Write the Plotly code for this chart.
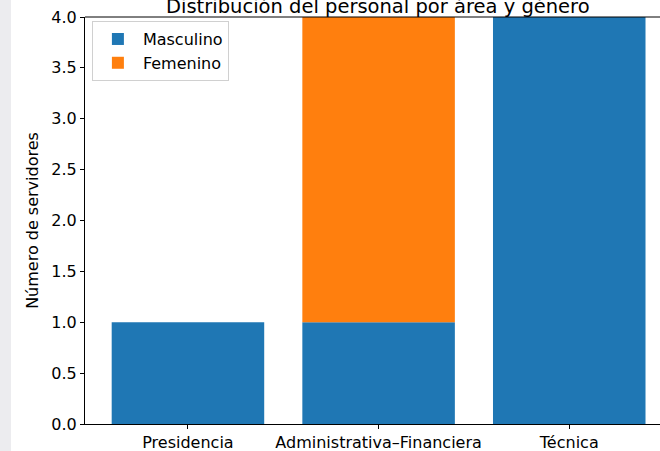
import plotly.graph_objects as go

areas = ['Presidencia', 'Administrativa–Financiera', 'Técnica']
masculino = [1, 1, 4]
femenino = [0, 3, 0]
y_ticks = [0.0, 0.5, 1.0, 1.5, 2.0, 2.5, 3.0, 3.5, 4.0]

fig = go.Figure()
fig.add_trace(go.Bar(x=areas, y=masculino, name='Masculino',
                     marker=dict(color='#1f77b4', line=dict(width=0))))
fig.add_trace(go.Bar(x=areas, y=femenino, name='Femenino', base=masculino,
                     marker=dict(color='#ff7f0e', line=dict(width=0))))

font = dict(family='DejaVu Sans', size=16, color='black')

fig.update_layout(
    barmode='overlay',
    bargap=0.2,
    width=660, height=451,
    paper_bgcolor='white', plot_bgcolor='white',
    margin=dict(l=85, r=0, t=17, b=27),
    font=font,
    xaxis=dict(range=[-0.54, 2.476], showgrid=False, showline=True, linecolor='black',
               linewidth=1, ticks='outside', ticklen=4, tickcolor='black', mirror=False,
               tickfont=font),
    yaxis=dict(range=[0, 4], tickvals=y_ticks, ticktext=[f'{v:.1f}' for v in y_ticks],
               showgrid=False, zeroline=False, showline=True, linecolor='black', linewidth=1,
               ticks='outside', ticklen=4, tickcolor='black', tickfont=font,
               title=dict(text='Número de servidores', font=font, standoff=8)),
    legend=dict(x=0.012, y=0.99, xanchor='left', yanchor='top',
                bgcolor='rgba(255,255,255,0.8)', bordercolor='#d0d0d0', borderwidth=1,
                font=font, itemwidth=40, tracegroupgap=0),
    showlegend=True,
)

# top spine
fig.add_shape(type='line', xref='paper', yref='paper', x0=0, x1=1, y0=1, y1=1,
              line=dict(color='black', width=1))
# grey strip at left edge
fig.add_shape(type='rect', xref='paper', yref='paper', x0=-85/575, x1=-74/575, y0=-27/407, y1=434/407,
              fillcolor='#ececef', line=dict(width=0), layer='below')

fig.add_annotation(text='Distribución del personal por área y género', xref='paper', yref='paper',
                   x=(378 - 85) / 575, y=1, xanchor='center', yanchor='bottom', yshift=-3,
                   showarrow=False, font=dict(family='DejaVu Sans', size=19.5, color='black'))

fig.write_html('out.html', config={'displayModeBar': False},
               post_script="document.body.style.margin='0';")
